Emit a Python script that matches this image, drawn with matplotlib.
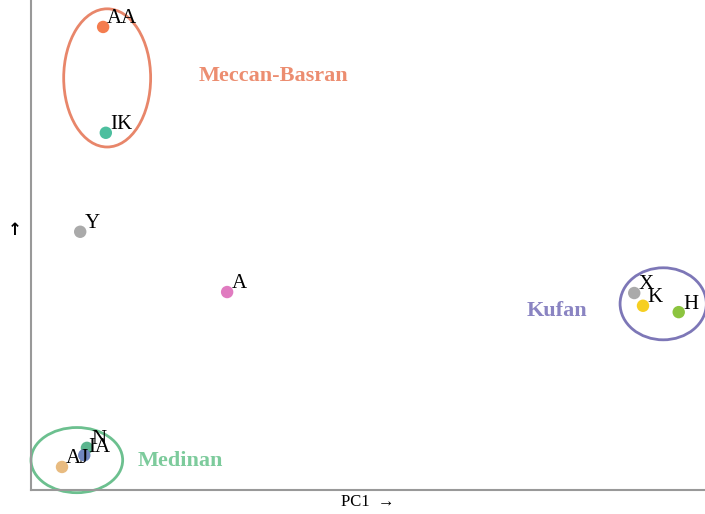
import matplotlib
matplotlib.use("Agg")
import matplotlib.pyplot as plt
from matplotlib.patches import Ellipse

# PCA scores (arbitrary scaled units) for each reading tradition
labels = ["AA", "IK", "Y", "A", "X", "K", "H", "N", "IA", "AJ"]
pc1 = [10.7, 11.1, 7.3, 29.1, 89.5, 90.8, 96.1, 8.3, 7.9, 4.6]
pc2 = [94.5, 72.9, 52.7, 40.4, 40.2, 37.6, 36.3, 8.6, 7.1, 4.7]
point_colors = ["#f47d4f", "#4dbf9f", "#aaaaaa", "#e07bc0", "#aaaaaa",
                "#f6cf22", "#8cc43f", "#5bb58e", "#6f86c0", "#e8bb80"]

# Regional groups: name, centre, width, height, colour, label position
groups = ["Meccan-Basran", "Kufan", "Medinan"]
group_centers = [(11.3, 84.1), (93.8, 38.0), (6.8, 6.1)]
group_sizes = [(12.9, 28.2), (12.8, 14.7), (13.6, 13.3)]
group_edge = ["#e8866a", "#7d77b7", "#6cc08f"]
group_text = ["#ec8d70", "#8a84c2", "#7dcb9c"]
group_label_pos = [(35.9, 84.5), (78.1, 36.5), (22.1, 6.0)]

plt.rcParams["font.family"] = ["Liberation Serif", "DejaVu Serif"]

fig = plt.figure(figsize=(7.05, 5.14), dpi=100)
ax = fig.add_axes([31 / 705, 24 / 514, 674 / 705, 490 / 514])
ax.set_xlim(0, 100)
ax.set_ylim(0, 100)

for (cx, cy), (w, h), ec in zip(group_centers, group_sizes, group_edge):
    ax.add_patch(Ellipse((cx, cy), w, h, fill=False, edgecolor=ec,
                         linewidth=2, clip_on=False, zorder=2))

ax.scatter(pc1, pc2, s=80, c=point_colors, edgecolors="none", zorder=3,
           clip_on=False)

for x, y, lab in zip(pc1, pc2, labels):
    ax.annotate(lab, (x, y), xytext=(3, -1), textcoords="offset points",
                ha="left", va="bottom", fontsize=15, color="black", zorder=4)

for name, (tx, ty), col in zip(groups, group_label_pos, group_text):
    ax.text(tx, ty, name, ha="center", va="center", fontsize=16,
            fontweight="bold", color=col)

for side in ["top", "right"]:
    ax.spines[side].set_visible(False)
for side in ["left", "bottom"]:
    ax.spines[side].set_color("#999999")
    ax.spines[side].set_linewidth(1.5)
ax.set_xticks([])
ax.set_yticks([])

ax.set_xlabel("PC1  →", fontsize=12, labelpad=3)
fig.text(15 / 705, 1 - 230 / 514, "↑", ha="center", va="center",
         fontsize=12, fontweight="bold", family="DejaVu Sans")

fig.savefig("out.png", dpi=100)
